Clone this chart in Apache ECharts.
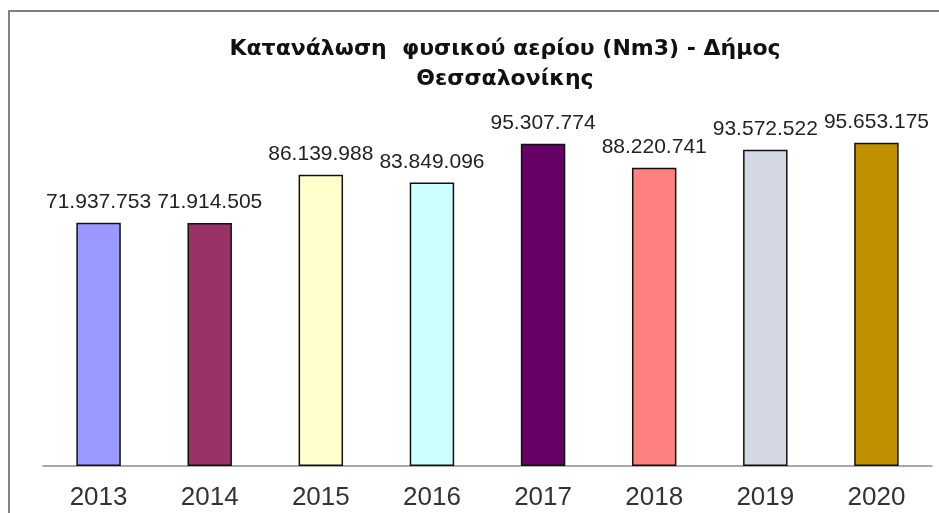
<!DOCTYPE html>
<html>
<head>
<meta charset="utf-8">
<script src="https://cdn.jsdelivr.net/npm/echarts@6/dist/echarts.min.js"></script>
<style>
  html, body { margin: 0; padding: 0; background: #fff; }
  #chart { width: 939px; height: 513px; }
</style>
</head>
<body>
<div id="chart"></div>
<script>
const years = ['2013', '2014', '2015', '2016', '2017', '2018', '2019', '2020'];
const consumption = [71937753, 71914505, 86139988, 83849096, 95307774, 88220741, 93572522, 95653175];
const barColors = ['#9999ff', '#993366', '#ffffcc', '#ccffff', '#660066', '#ff8080', '#d4d8e4', '#bf8f00'];
const titleText = 'Κατανάλωση  φυσικού αερίου (Nm3) - Δήμος\nΘεσσαλονίκης';

// greek style thousands: 71.937.753
function formatValue(v) {
  return String(v).replace(/\B(?=(\d{3})+(?!\d))/g, '.');
}

const chart = echarts.init(document.getElementById('chart'));

chart.setOption({
  animation: false,
  backgroundColor: '#fff',
  title: {
    text: titleText,
    left: 500,
    top: 29,
    textAlign: 'center',
    textStyle: {
      fontFamily: 'DejaVu Sans',
      fontWeight: 'bold',
      fontSize: 22,
      lineHeight: 30,
      color: '#111'
    }
  },
  graphic: [
    {
      type: 'rect',
      shape: { x: 9, y: 11, width: 1000, height: 600 },
      style: { fill: 'none', stroke: '#808080', lineWidth: 2 },
      silent: true
    }
  ],
  grid: {
    left: 43,
    right: 7,
    top: 128,
    bottom: 47
  },
  xAxis: {
    type: 'category',
    data: years,
    axisLine: { lineStyle: { color: '#8c8c8c', width: 1.5 } },
    axisTick: { length: 6, lineStyle: { color: '#8c8c8c', width: 1.5 } },
    axisLabel: {
      color: '#333',
      fontFamily: 'Liberation Sans',
      fontSize: 26,
      margin: 19
    }
  },
  yAxis: {
    type: 'value',
    min: 0,
    max: 100000000,
    show: false
  },
  series: [
    {
      type: 'bar',
      barWidth: '40%',
      data: consumption.map((v, i) => ({
        value: v,
        itemStyle: { color: barColors[i] }
      })),
      itemStyle: {
        borderColor: '#111',
        borderWidth: 1.5
      },
      label: {
        show: true,
        position: 'top',
        distance: 10,
        color: '#222',
        fontFamily: 'Liberation Sans',
        fontSize: 21,
        formatter: (p) => formatValue(p.value)
      }
    }
  ]
});
</script>
</body>
</html>
